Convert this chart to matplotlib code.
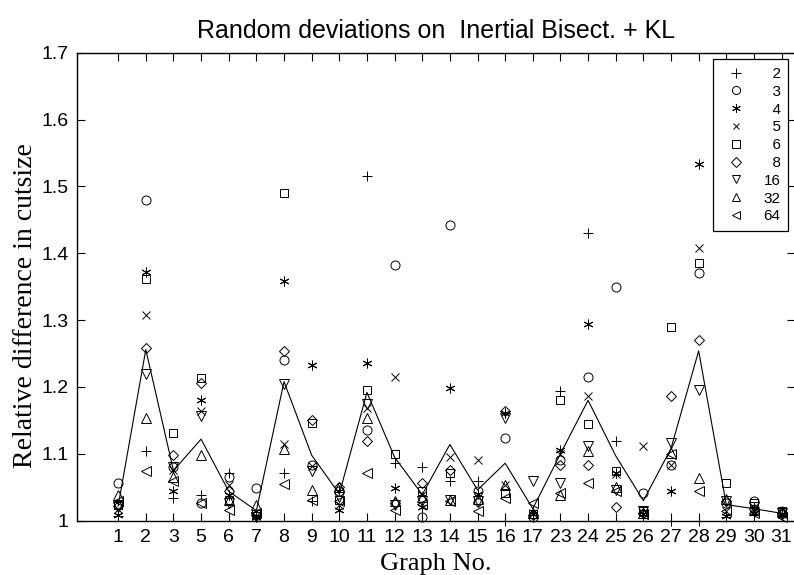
import numpy as np
import matplotlib
matplotlib.use("Agg")
import matplotlib.pyplot as plt

graphs = ["1", "2", "3", "5", "6", "7", "8", "9", "10", "11", "12", "13", "14",
          "15", "16", "17", "23", "24", "25", "26", "27", "28", "29", "30", "31"]

s2 = [1.007, 1.104, 1.034, 1.039, 1.071, 1.008, 1.072, 1.029, 1.046, 1.516, 1.087, 1.081, 1.059,
      1.059, 1.000, 1.008, 1.194, 1.430, 1.119, 1.012, 1.000, 1.000, 1.005, 1.020, 1.012]
s3 = [1.057, 1.479, 1.080, 1.026, 1.066, 1.049, 1.240, 1.084, 1.044, 1.136, 1.382, 1.006, 1.443,
      1.044, 1.124, 1.005, 1.091, 1.215, 1.350, 1.041, 1.084, 1.370, 1.026, 1.029, 1.012]
s4 = [1.009, 1.372, 1.044, 1.181, 1.039, 1.005, 1.359, 1.233, 1.016, 1.236, 1.049, 1.020, 1.199,
      1.040, 1.161, 1.010, 1.106, 1.294, 1.071, 1.010, 1.045, 1.533, 1.007, 1.012, 1.008]
s5 = [1.017, 1.307, 1.076, 1.164, 1.054, 1.007, 1.114, 1.082, 1.024, 1.169, 1.215, 1.039, 1.095,
      1.091, 1.054, 1.012, 1.100, 1.187, 1.070, 1.112, 1.084, 1.408, 1.015, 1.015, 1.010]
s6 = [1.024, 1.361, 1.131, 1.214, 1.031, 1.010, 1.490, 1.146, 1.031, 1.195, 1.100, 1.044, 1.071,
      1.031, 1.041, 1.010, 1.181, 1.144, 1.074, 1.015, 1.290, 1.385, 1.057, 1.026, 1.014]
s8 = [1.022, 1.259, 1.099, 1.206, 1.044, 1.008, 1.254, 1.151, 1.050, 1.119, 1.026, 1.056, 1.076,
      1.028, 1.164, 1.008, 1.084, 1.084, 1.020, 1.012, 1.186, 1.271, 1.030, 1.018, 1.010]
s16 = [1.021, 1.219, 1.081, 1.156, 1.026, 1.006, 1.205, 1.074, 1.036, 1.175, 1.024, 1.030, 1.031,
       1.030, 1.154, 1.059, 1.056, 1.112, 1.046, 1.014, 1.116, 1.195, 1.029, 1.020, 1.012]
s32 = [1.039, 1.154, 1.066, 1.099, 1.031, 1.024, 1.107, 1.046, 1.050, 1.154, 1.030, 1.035, 1.031,
       1.033, 1.054, 1.012, 1.039, 1.104, 1.051, 1.012, 1.101, 1.064, 1.033, 1.016, 1.015]
s64 = [1.030, 1.074, 1.059, 1.026, 1.016, 1.012, 1.055, 1.031, 1.029, 1.071, 1.016, 1.025, 1.029,
       1.014, 1.034, 1.027, 1.041, 1.056, 1.044, 1.010, 1.100, 1.044, 1.014, 1.012, 1.006]
mean_line = [1.022, 1.256, 1.075, 1.122, 1.044, 1.015, 1.208, 1.098, 1.040, 1.192, 1.095, 1.039, 1.114,
             1.046, 1.086, 1.018, 1.100, 1.180, 1.097, 1.030, 1.108, 1.254, 1.024, 1.018, 1.011]

series = [("2", s2, "+"), ("3", s3, "o"), ("4", s4, (6, 2, 0)), ("5", s5, "x"),
          ("6", s6, "s"), ("8", s8, "D"), ("16", s16, "v"), ("32", s32, "^"), ("64", s64, "<")]

plt.rcParams["font.family"] = ["Liberation Sans", "DejaVu Sans"]

fig = plt.figure(figsize=(7.94, 5.75), dpi=100)
ax = fig.add_axes([76.7 / 794, (575 - 520.7) / 575, 718.7 / 794, 468.0 / 575])

x = np.arange(1, len(graphs) + 1)
handles = []
for name, vals, mk in series:
    sz = {"D": 5.5, "s": 6, "o": 6.5, "x": 5.5, "+": 7.5}.get(mk if isinstance(mk, str) else "", 7)
    lab = name if len(name) == 2 else "\u2007" + name
    h, = ax.plot(x, vals, linestyle="none", marker=mk, markersize=sz,
                 markerfacecolor="none", markeredgecolor="black", markeredgewidth=0.7,
                 color="black", clip_on=False, label=lab)
    handles.append(h)

ax.plot(x, mean_line, color="black", linewidth=0.8)

ax.set_xlim(-0.5, 25.5)
ax.set_ylim(1.0, 1.7)
ax.set_xticks(x)
ax.set_xticklabels(graphs)
yt = [1.0, 1.1, 1.2, 1.3, 1.4, 1.5, 1.6, 1.7]
ax.set_yticks(yt)
ax.set_yticklabels(["1", "1.1", "1.2", "1.3", "1.4", "1.5", "1.6", "1.7"])
ax.tick_params(direction="in", top=True, right=True, length=6, width=0.8,
               labelsize=14, pad=6)
for sp in ax.spines.values():
    sp.set_linewidth(1.0)

ax.set_title("Random deviations on  Inertial Bisect. + KL", fontsize=18, pad=10.5)
ax.set_xlabel("Graph No.", fontsize=19, family="Liberation Serif", labelpad=5)
ax.set_ylabel("Relative difference in cutsize", fontsize=20, family="Liberation Serif")
ax.yaxis.set_label_coords(-0.054, 0.459)

leg = ax.legend(handles=handles, loc="upper right", bbox_to_anchor=(0.99, 0.986),
                borderaxespad=0, fancybox=False, edgecolor="black", framealpha=1,
                fontsize=11, labelspacing=0.25, handlelength=2.0, handletextpad=0.8,
                borderpad=0.5, markerscale=0.9)
leg.get_frame().set_linewidth(0.9)

fig.savefig("out.png", dpi=100)
